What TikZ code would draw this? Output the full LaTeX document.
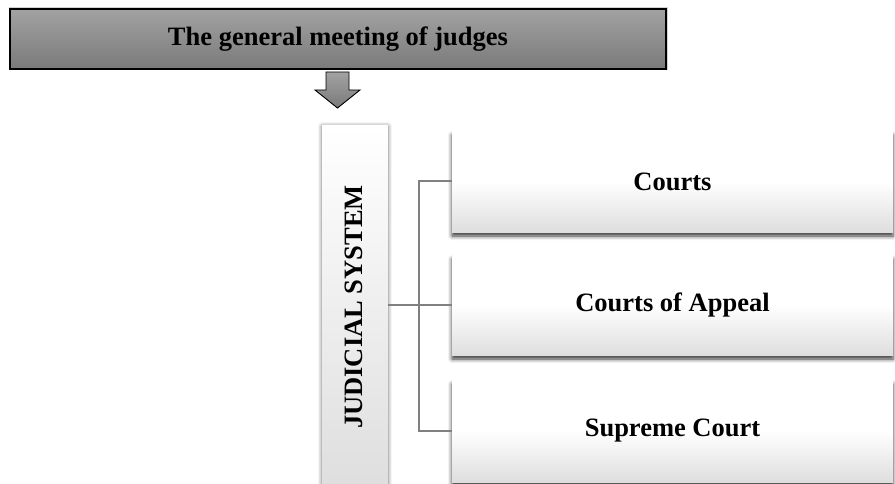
\documentclass[tikz,border=0pt]{standalone}
\usepackage{fontspec}
\setmainfont{Liberation Serif}
\usetikzlibrary{shadows.blur}
\definecolor{topgrayA}{RGB}{162,162,162}
\definecolor{topgrayB}{RGB}{122,122,122}
\definecolor{connc}{RGB}{128,128,128}
\definecolor{boxlow}{RGB}{222,222,222}
\tikzset{
  lbl/.style={font=\fontsize{26.5}{30}\selectfont\bfseries, text=black},
  headbox/.style={draw=black, line width=1.3pt, top color=topgrayA, bottom color=topgrayB,
    minimum width=656, minimum height=60, inner sep=0pt, anchor=center},
  sidebox/.style={draw=none, top color=white, bottom color=boxlow, minimum width=66, minimum height=364,
    inner sep=0pt, blur shadow={shadow xshift=0pt, shadow yshift=0pt, shadow blur radius=4pt, shadow opacity=60}},
  itembox/.style={draw=none, top color=white, bottom color=boxlow, middle color=white,
    minimum width=441, inner sep=0pt,
    blur shadow={shadow xshift=0pt, shadow yshift=-4pt, shadow blur radius=4pt, shadow opacity=80}},
  conn/.style={draw=connc, line width=2pt},
  blockarrow/.style={draw=black, line width=0.9pt, top color=topgrayA, bottom color=topgrayB}
}
\begin{document}
\begin{tikzpicture}[x=1pt,y=-1pt]
\useasboundingbox (0,0) rectangle (895,484);
% head
\draw[gray!35, line width=1pt] (9,8) rectangle (667,70);
\node[headbox, lbl] (head) at (338,39) {The general meeting of judges};
% block arrow
\path[blockarrow] (326,72) -- (349,72) -- (349,90) -- (360,90) -- (337.5,108) -- (315,90) -- (326,90) -- cycle;
% judicial system
\node[sidebox] (jud) at (355,308) {};
\node[lbl, rotate=90] (judtxt) at (354,307) {JUDICIAL SYSTEM};
% items
\node[itembox, minimum height=101, lbl] (c1) at (672.5,181.5) {Courts};
\node[itembox, minimum height=100, lbl] (c2) at (672.5,305) {Courts of Appeal};
\node[itembox, minimum height=102, lbl] (c3) at (672.5,431) {Supreme Court};
% connectors
\coordinate (bus) at (419,305);
\draw[conn] (jud.east |- c2.west) -- (c2.west);
\draw[conn] (c1.west) -- (c1.west -| bus) -- (c3.west -| bus) -- (c3.west);
\end{tikzpicture}
\end{document}
